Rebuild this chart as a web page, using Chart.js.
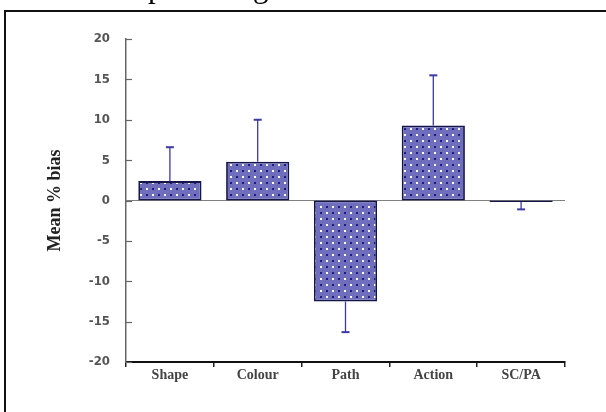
<!DOCTYPE html>
<html>
<head>
<meta charset="utf-8">
<script src="https://cdn.jsdelivr.net/npm/chart.js@4"></script>
<style>
  html, body { margin: 0; padding: 0; background: #fff; overflow: hidden; }
  body { width: 606px; height: 412px; position: relative; }
  #caption { position: absolute; left: 0; top: 0; }
  #frame {
    position: absolute; left: 4px; top: 10px; width: 640px; height: 440px;
    border: 2px solid #111;
  }
  #wrap { position: absolute; left: 0; top: 0; width: 606px; height: 412px; }
</style>
</head>
<body>
<canvas id="caption" width="606" height="12"></canvas>
<div id="frame"></div>
<div id="wrap"><canvas id="chart" width="606" height="412"></canvas></div>
<script>
const categories = ['Shape', 'Colour', 'Path', 'Action', 'SC/PA'];
const meanBias = [2.4, 4.8, -12.5, 9.3, -0.2];
const errors = [4.2, 5.2, 3.8, 6.2, 0.9];
const yTicks = [-20, -15, -10, -5, 0, 5, 10, 15, 20];

// the line of running text above the figure, only its descenders fall inside the page
const cap = document.getElementById('caption').getContext('2d');
cap.font = '31px "Liberation Serif", serif';
cap.fillStyle = '#000';
cap.textBaseline = 'alphabetic';
cap.fillText('percentage', 148, -3);

// dotted fill used by the bars
function makeDots() {
  const tile = document.createElement('canvas');
  tile.width = 12;
  tile.height = 12;
  const t = tile.getContext('2d');
  t.fillStyle = '#6e6ebc';
  t.fillRect(0, 0, 12, 12);
  t.fillStyle = '#1c1c80';
  t.fillRect(2, 2, 2, 2);
  t.fillRect(8, 8, 2, 2);
  t.fillStyle = '#ffffff';
  t.fillRect(8, 2, 2, 2);
  t.fillRect(2, 8, 2, 2);
  return t.createPattern(tile, 'repeat');
}

const ctx = document.getElementById('chart').getContext('2d');

// zero line, inward y ticks and one-sided error bars
const extras = {
  id: 'extras',
  beforeDatasetsDraw(chart) {
    const { ctx, chartArea, scales } = chart;
    const y0 = scales.y.getPixelForValue(0);
    ctx.save();
    ctx.strokeStyle = '#808080';
    ctx.lineWidth = 1.2;
    ctx.beginPath();
    ctx.moveTo(chartArea.left, y0);
    ctx.lineTo(chartArea.right, y0);
    ctx.stroke();
    ctx.restore();
  },
  afterDatasetsDraw(chart) {
    const { ctx, chartArea, scales } = chart;
    ctx.save();
    ctx.strokeStyle = '#666';
    ctx.lineWidth = 1.2;
    yTicks.forEach(v => {
      const y = Math.round(scales.y.getPixelForValue(v)) + 0.5;
      ctx.beginPath();
      ctx.moveTo(chartArea.left, y);
      ctx.lineTo(chartArea.left + 6, y);
      ctx.stroke();
    });

    const meta = chart.getDatasetMeta(0);
    ctx.strokeStyle = '#3a3aa6';
    meanBias.forEach((v, i) => {
      const bar = meta.data[i];
      const x = bar.x;
      const yStart = scales.y.getPixelForValue(v);
      const yEnd = scales.y.getPixelForValue(v >= 0 ? v + errors[i] : v - errors[i]);
      ctx.lineWidth = 1.3;
      ctx.beginPath();
      ctx.moveTo(x, yStart);
      ctx.lineTo(x, yEnd);
      ctx.stroke();
      ctx.lineWidth = 2;
      ctx.beginPath();
      ctx.moveTo(x - 4, yEnd);
      ctx.lineTo(x + 4, yEnd);
      ctx.stroke();
    });
    ctx.restore();
  }
};

new Chart(ctx, {
  type: 'bar',
  data: {
    labels: categories,
    datasets: [{
      data: meanBias,
      backgroundColor: makeDots(),
      borderColor: '#15154a',
      borderWidth: 1.8,
      borderSkipped: false,
      barPercentage: 0.72,
      categoryPercentage: 1
    }]
  },
  options: {
    responsive: false,
    animation: false,
    layout: { padding: { top: 39, right: 41, left: 0, bottom: 0 } },
    plugins: { legend: { display: false }, tooltip: { enabled: false } },
    scales: {
      x: {
        grid: { display: true, offset: true, drawOnChartArea: false, tickLength: 5, color: '#222', lineWidth: 1.5 },
        border: { display: true, color: '#111', width: 2 },
        ticks: {
          color: '#444',
          padding: 0,
          font: { family: 'Liberation Serif', size: 14, weight: 'bold' }
        },
        afterFit(scale) { scale.height = 50; }
      },
      y: {
        min: -20,
        max: 20,
        grid: { display: false },
        border: { display: true, color: '#666', width: 1.5 },
        afterBuildTicks(scale) { scale.ticks = yTicks.map(v => ({ value: v })); },
        ticks: {
          color: '#555',
          padding: 8,
          font: { family: 'DejaVu Sans Condensed', size: 13, weight: 'bold' }
        },
        title: {
          display: true,
          text: 'Mean % bias',
          color: '#222',
          padding: { top: 45, bottom: 0 },
          font: { family: 'Liberation Serif', size: 18, weight: 'bold' }
        },
        afterFit(scale) { scale.width = 126; }
      }
    }
  },
  plugins: [extras]
});
</script>
</body>
</html>
